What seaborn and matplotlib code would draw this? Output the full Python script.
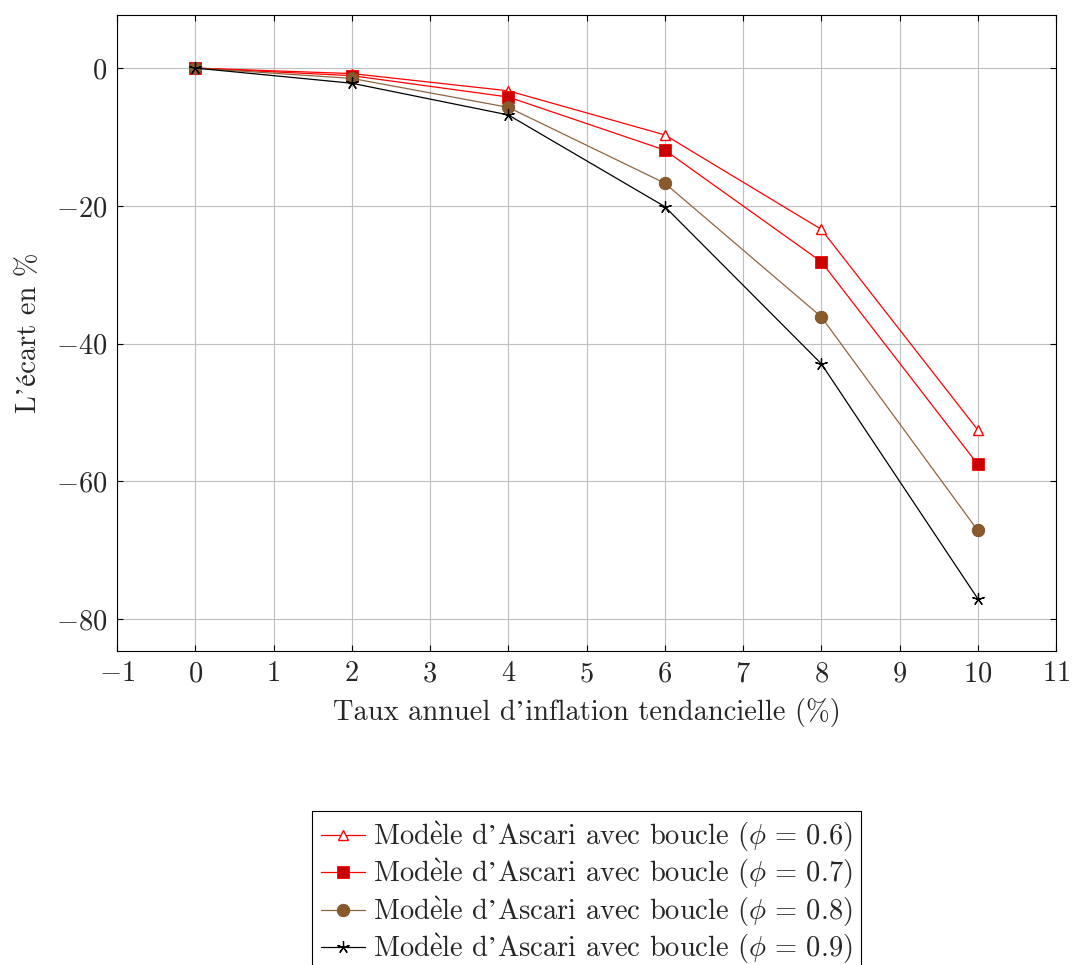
import matplotlib
matplotlib.use("Agg")
import matplotlib.pyplot as plt
import seaborn as sns
import pandas as pd

x_vals = [0, 2, 4, 6, 8, 10]
phi_06 = [0, -0.8, -3.3, -9.7, -23.4, -52.5]
phi_07 = [0, -1.1, -4.2, -11.9, -28.1, -57.5]
phi_08 = [0, -1.5, -5.7, -16.7, -36.1, -67.1]
phi_09 = [0, -2.2, -6.8, -20.1, -42.9, -77.0]
phis = ["0.6", "0.7", "0.8", "0.9"]
labels = [r"Mod$\grave{\mathrm{e}}$le d$\mathrm{’}$Ascari avec boucle ($\phi\,=\," + p + "$)"
          for p in phis]
xticks = list(range(-1, 12))
yticks = [-80, -60, -40, -20, 0]

sns.set_style("white")
plt.rcParams['font.family'] = ['cmr10', 'STIXGeneral', 'DejaVu Serif']
plt.rcParams['mathtext.fontset'] = 'cm'
plt.rcParams['axes.formatter.use_mathtext'] = True
plt.rcParams['axes.unicode_minus'] = True

FS = 20.5
fig = plt.figure(figsize=(10.72, 9.65), dpi=100)
ax = fig.add_axes([117/1072, 1-651/965, (1056-117)/1072, (651-15)/965])

styles = [
    dict(color='#ff0000', marker='^', mfc='white', mec='#ff0000', ms=7, mew=1.0),
    dict(color='#ff0000', marker='s', mfc='#cc0000', mec='#ff0000', ms=9, mew=0.6),
    dict(color='#8f6540', marker='o', mfc='#8b5a2b', mec='#7a5030', ms=9, mew=0.6),
    dict(color='black', marker=(5, 2, 0), mfc='black', mec='black', ms=9, mew=0.9),
]
series = [phi_06, phi_07, phi_08, phi_09]
for vals, lab, st in zip(series, labels, styles):
    df = pd.DataFrame({'x': x_vals, 'y': vals})
    sns.lineplot(data=df, x='x', y='y', ax=ax, label=lab, color=st['color'],
                 marker=st['marker'], markerfacecolor=st['mfc'],
                 markeredgecolor=st['mec'], markersize=st['ms'],
                 markeredgewidth=st['mew'], linewidth=0.9)

ax.set_xlim(-1, 11)
ax.set_ylim(-84.6, 7.7)
ax.set_xticks(xticks)
ax.set_yticks(yticks)
ax.grid(True, color='#bfbfbf', linewidth=0.8)
ax.set_axisbelow(True)
for sp in ax.spines.values():
    sp.set_color('black')
    sp.set_linewidth(0.8)
ax.tick_params(direction='in', length=4, labelsize=FS, top=True, right=True,
               bottom=True, left=True, color='black', pad=7)
ax.set_xlabel("Taux annuel d’inflation tendancielle (%)", fontsize=FS, labelpad=8)
ax.set_ylabel("L’écart en %", fontsize=FS, labelpad=10)

leg = ax.legend(loc='upper center', bbox_to_anchor=(0.5, -0.252), fontsize=FS,
                frameon=True, fancybox=False, edgecolor='black', framealpha=1,
                handlelength=1.55, labelspacing=0.12, borderpad=0.3,
                handletextpad=0.28, borderaxespad=0)
leg.get_frame().set_linewidth(0.8)

fig.savefig("out.png", dpi=100)
